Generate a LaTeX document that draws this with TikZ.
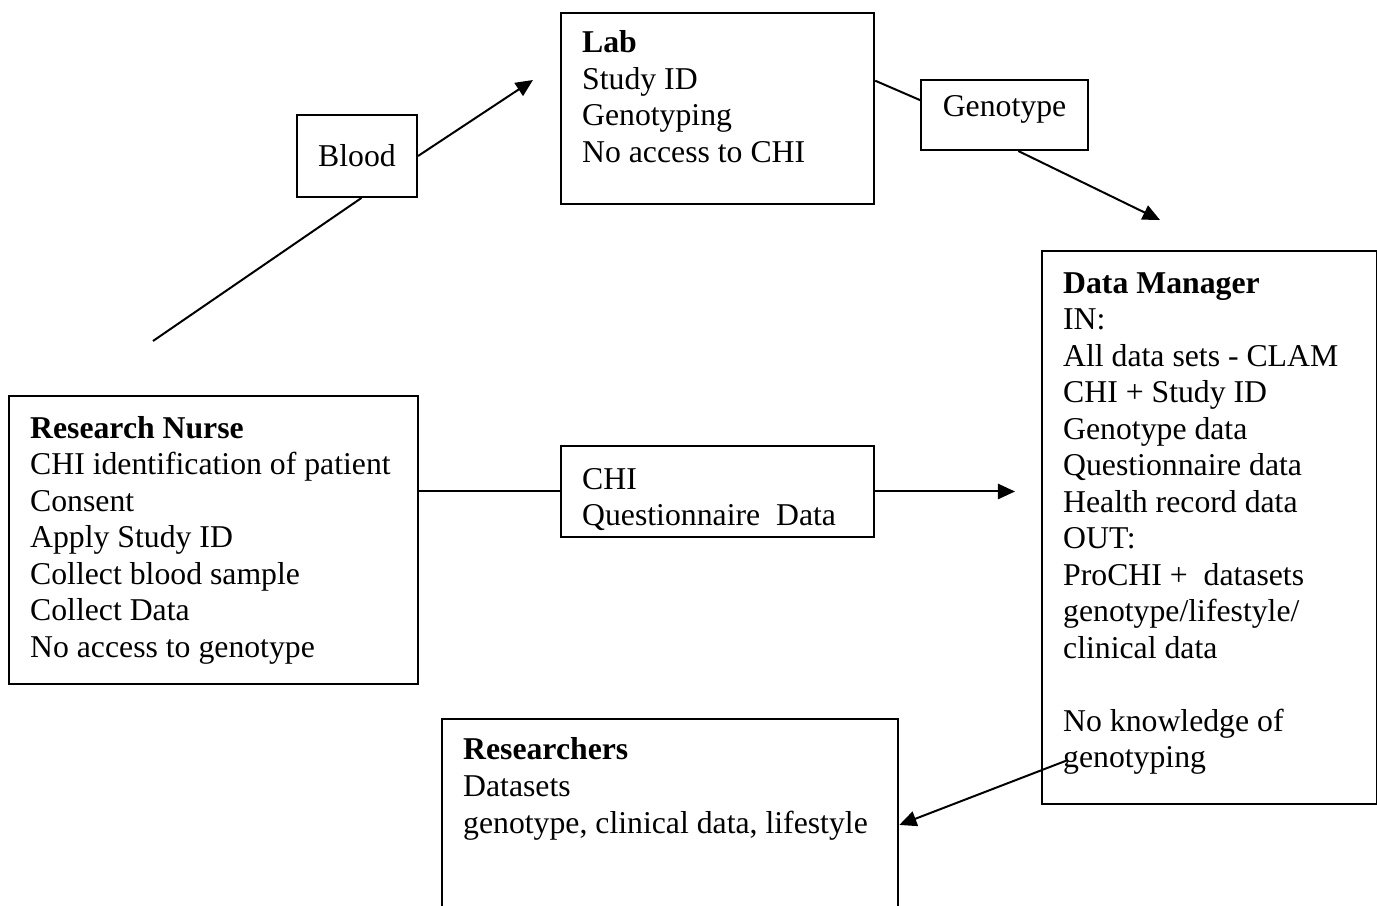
\documentclass[tikz,border=0pt]{standalone}
\usepackage{fontspec}
\setmainfont{Liberation Serif}
\usetikzlibrary{arrows.meta}

\begin{document}
\begin{tikzpicture}[x=0.378pt,y=-0.378pt,font=\fontsize{12pt}{13.8pt}\selectfont,line width=.75pt,
  panel/.style={draw,anchor=north west,align=flush left,inner xsep=8pt,inner ysep=0pt},
  tag/.style={draw,inner sep=0pt},
  arr/.style={-{Triangle[length=6.5pt,width=5.8pt]}}]
\useasboundingbox (0,0) rectangle (1377,906);
\clip (0,0) rectangle (1377,906);
% boxes
\node[panel,text width=138.7pt,text height=15.9pt,text depth=93pt] (nurse) at (8,395)
  {\textbf{Research Nurse}\\CHI identification of patient\\Consent\\Apply Study ID\\Collect blood sample\\Collect Data\\No access to genotype};
\node[panel,text width=102.4pt,text height=15.1pt,text depth=57.1pt] (lab) at (560,12)
  {\textbf{Lab}\\Study ID\\Genotyping\\No access to CHI};
\node[panel,text width=102.4pt,text height=16.3pt,text depth=18.1pt] (chi) at (560,445)
  {CHI\\Questionnaire~~Data};
\node[panel,text width=110.8pt,text height=15.9pt,text depth=193.2pt] (dm) at (1041,250)
  {\textbf{Data Manager}\\IN:\\All data sets - CLAM\\CHI + Study ID\\Genotype data\\Questionnaire data\\Health record data\\OUT:\\ProCHI +~~datasets\\genotype/lifestyle/\\clinical data\\[13.8pt]No knowledge of\\genotyping};
\node[panel,text width=156.5pt,text height=15.5pt,text depth=64.6pt] (res) at (441,718)
  {\textbf{Researchers}\\Datasets\\genotype, clinical data, lifestyle};
\node[tag,minimum width=45.4pt,minimum height=31pt] (blood) at (357,156) {Blood};
\node[tag,minimum width=63.1pt,minimum height=26.5pt,text height=8pt,text depth=6.5pt] (geno) at (1004.5,115) {Genotype};
% free ends
\coordinate (nurseup) at (153,341);
\coordinate (labin) at (533,80);
\coordinate (dmtop) at (1160,220);
\coordinate (dmleft) at (1015,486);
\coordinate (dmout) at (1068,760);
% blood sample to the lab
\draw (nurseup) -- (blood.-84);
\draw[arr] (blood.east) -- (labin);
% genotype back
\draw (lab.10) -- (geno.170);
\draw[arr] (geno.-69) -- (dmtop);
% questionnaire
\draw (chi.west -| nurse.east) -- (chi.west);
\draw[arr] (chi.east) -- (chi.east -| dmleft);
% datasets out
\draw[arr] (dmout) -- (res.east);
\end{tikzpicture}
\end{document}
